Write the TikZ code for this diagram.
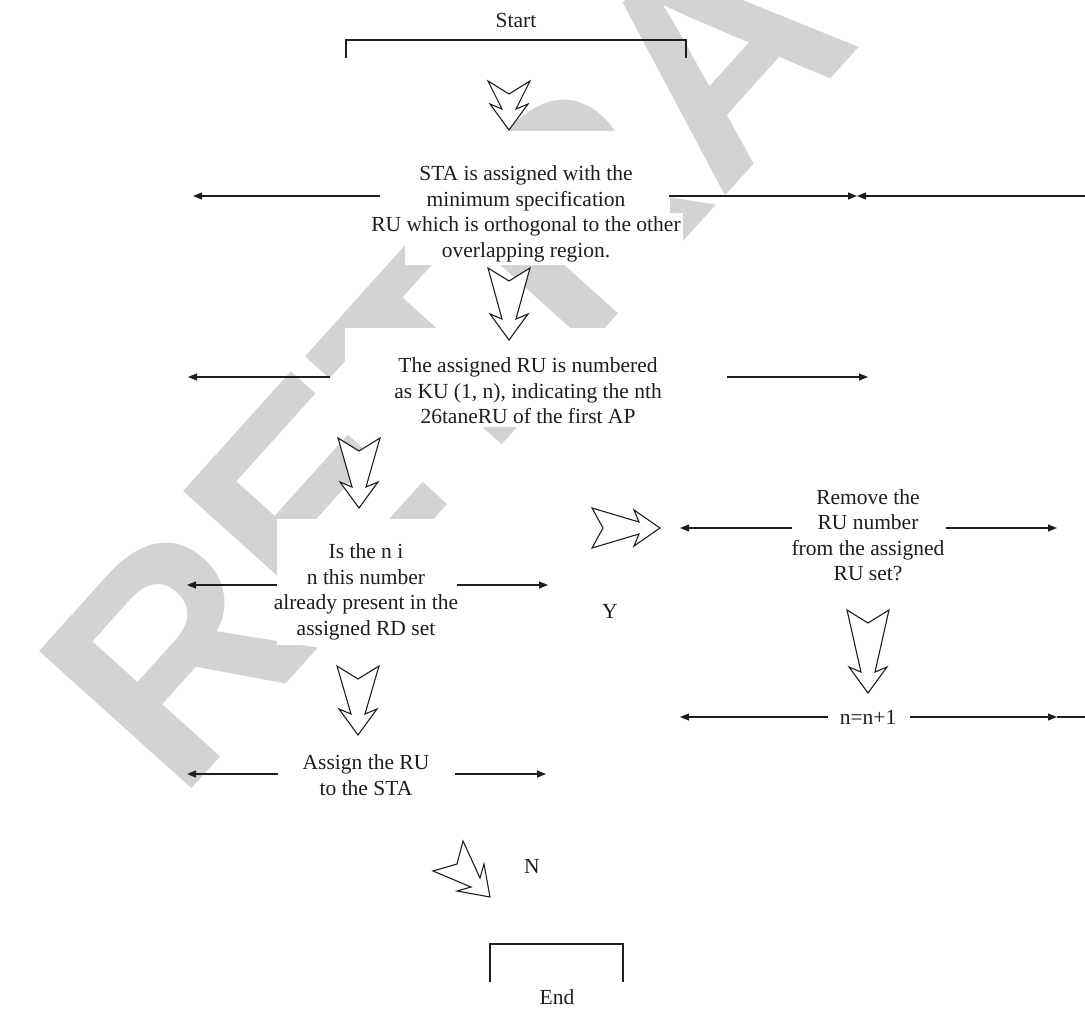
\documentclass[tikz,border=0pt]{standalone}
\usepackage{fontspec}
\setmainfont{Liberation Serif}
\newfontfamily\wmfont{Liberation Sans}
\usetikzlibrary{arrows.meta}
\definecolor{ink}{HTML}{1E1E1E}
\definecolor{wm}{HTML}{D3D3D3}
\tikzset{
  txt/.style={font=\fontsize{21.5}{25.5}\selectfont, align=center, fill=white, inner sep=3pt, text=ink},
  nofill/.style={fill=none},
  mask/.style={fill=white, draw=none},
  hline/.style={draw=ink, line width=1.2pt, -{Triangle[length=9pt,width=7pt]}},
  plain/.style={draw=ink, line width=1.2pt},
  bigarrow/.style={draw=ink, line width=1.1pt, fill=white, line join=miter},
  pics/downarrow/.style={code={
    \draw[bigarrow] (-21,0) -- (0,13) -- (21,0) -- (7,#1-21) -- (19,#1-26) -- (0,#1) -- (-19,#1-26) -- (-7,#1-21) -- cycle;}},
}
\begin{document}
\begin{tikzpicture}[x=1pt,y=-1pt]
\useasboundingbox (0,0) rectangle (1085,1009);
% watermark
\begin{scope}
\clip (0,0) rectangle (1085,1009);
\node[anchor=base west, rotate=48, inner sep=0, text=wm, font=\wmfont\bfseries\fontsize{298}{300}\selectfont] (wmark) at (178,804) {RETRACTED};
\end{scope}
% white masks behind the text blocks
\path[mask] (405,131) rectangle (670,265);
\path[mask] (369,213) rectangle (683,240);
\path[mask] (345,328) rectangle (712,427);
\path[mask] (277,519) rectangle (457,645);
% text nodes
\node[txt] (start) at (516,20) {Start};
\node[txt,nofill] (sta) at (526,214) {STA is assigned with the\\minimum specification\\RU which is orthogonal to the other\\overlapping region.};
\node[txt,nofill] (num) at (528,391) {The assigned RU is numbered\\as KU (1, n), indicating the nth\\26taneRU of the first AP};
\node[txt,nofill] (isn) at (366,592) {Is the n i\\n this number\\already present in the\\assigned RD set};
\node[txt] (rem) at (868,535) {Remove the\\RU number\\from the assigned\\RU set?};
\node[txt] (inc) at (868,717) {n=n+1};
\node[txt] (asg) at (366,775) {Assign the RU\\to the STA};
\node[txt] (yes) at (610,611) {Y};
\node[txt] (no) at (532,866) {N};
\node[txt] (end) at (557,997) {End};
% brackets
\draw[plain] (346,58) -- (346,40) -- (686,40) -- (686,58);
\draw[plain] (490,982) -- (490,944) -- (623,944) -- (623,982);
% block arrows
\pic at (509,81) {downarrow=49};
\pic at (509,268) {downarrow=72};
\pic at (359,438) {downarrow=70};
\pic at (868,610) {downarrow=83};
\pic at (358,666) {downarrow=69};
\draw[bigarrow] (592,508) -- (603,528) -- (592,548) -- (639,534) -- (634,546) -- (660,528) -- (634,510) -- (639,522) -- cycle;
\draw[bigarrow] (463,841) -- (457,864) -- (433,871) -- (471,887) -- (457,891) -- (490,897) -- (484,864) -- (480,878) -- cycle;
% horizontal arrows
\coordinate (staLa) at (380,196); \coordinate (staLb) at (193,196);
\coordinate (staRa) at (669,196); \coordinate (staM) at (857,196); \coordinate (staE) at (1085,196);
\coordinate (numLa) at (330,377); \coordinate (numLb) at (188,377);
\coordinate (numRa) at (727,377); \coordinate (numRb) at (868,377);
\coordinate (isnLa) at (277,585); \coordinate (isnLb) at (187,585);
\coordinate (isnRa) at (457,585); \coordinate (isnRb) at (548,585);
\coordinate (remLa) at (792,528); \coordinate (remLb) at (680,528);
\coordinate (remRa) at (946,528); \coordinate (remRb) at (1057,528);
\coordinate (incLa) at (828,717); \coordinate (incLb) at (680,717);
\coordinate (incRa) at (910,717); \coordinate (incRb) at (1057,717); \coordinate (incE) at (1085,717);
\coordinate (asgLa) at (278,774); \coordinate (asgLb) at (187,774);
\coordinate (asgRa) at (455,774); \coordinate (asgRb) at (546,774);
\draw[hline] (staLa) -- (staLb);
\draw[hline] (staRa) -- (staM);
\draw[hline] (staE) -- (staM);
\draw[hline] (numLa) -- (numLb);
\draw[hline] (numRa) -- (numRb);
\draw[hline] (isnLa) -- (isnLb);
\draw[hline] (isnRa) -- (isnRb);
\draw[hline] (remLa) -- (remLb);
\draw[hline] (remRa) -- (remRb);
\draw[hline] (incLa) -- (incLb);
\draw[hline] (incRa) -- (incRb);
\draw[plain] (incRb) -- (incE);
\draw[hline] (asgLa) -- (asgLb);
\draw[hline] (asgRa) -- (asgRb);
\end{tikzpicture}
\end{document}
